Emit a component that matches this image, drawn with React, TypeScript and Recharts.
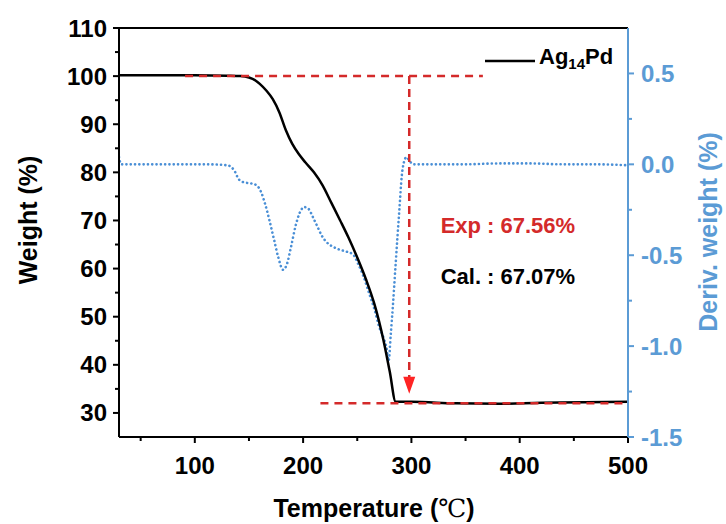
import React from 'react';
import {
  ComposedChart,
  Line,
  XAxis,
  YAxis,
  ReferenceLine,
  ReferenceDot,
  Legend,
} from 'recharts';

const FONT = '"Liberation Sans", Arial, sans-serif';
const BLUE = '#5b9bd5';
const RED = '#d42a2a';

// TGA curve (left axis)
const tgaTemp = [30, 60, 100, 130, 142, 150, 156, 160, 166, 172, 178, 184, 190, 196, 202, 210, 218, 226, 234, 242, 250, 258, 266, 274, 280, 285.5, 300, 340, 380, 420, 460, 500];
const tgaWeight = [100.2, 100.2, 100.2, 100.1, 100.0, 99.7, 99.1, 98.4, 97.0, 95.2, 92.5, 88.8, 85.9, 83.8, 82.1, 80.0, 77.3, 73.7, 70.1, 66.4, 62.3, 57.8, 52.5, 45.3, 38.6, 32.3, 32.3, 32.0, 31.9, 32.1, 32.2, 32.3];

// DTG curve (right axis)
const dtgTemp = [30, 32, 50, 80, 110, 130, 136, 141, 146, 152, 157, 161, 165, 169, 173, 177, 181.5, 185, 189, 193, 197, 201, 205, 209, 213, 217, 222, 228, 234, 240, 246, 251, 256, 261, 266, 270, 274, 277, 279, 281, 283, 285, 287, 289, 291, 293, 295.5, 298, 302, 320, 350, 380, 410, 440, 470, 500];
const dtgDeriv = [0.04, 0, 0, 0, 0, -0.005, -0.03, -0.085, -0.1, -0.105, -0.115, -0.15, -0.22, -0.31, -0.41, -0.51, -0.58, -0.55, -0.45, -0.34, -0.265, -0.235, -0.245, -0.29, -0.34, -0.39, -0.43, -0.455, -0.47, -0.48, -0.495, -0.55, -0.62, -0.71, -0.8, -0.89, -0.95, -1.01, -1.08, -0.93, -0.77, -0.59, -0.41, -0.24, -0.07, 0.01, 0.04, 0.02, 0, 0, 0, 0.005, 0.005, 0, 0, -0.005];

const tempTicks = [50, 100, 150, 200, 250, 300, 350, 400, 450, 500];
const weightTicks = [30, 35, 40, 45, 50, 55, 60, 65, 70, 75, 80, 85, 90, 95, 100, 105, 110];
const derivTicks = [-1.5, -1.25, -1, -0.75, -0.5, -0.25, 0, 0.25, 0.5];

// annotation guides (temperature, weight)
const startLevel = [{ x: 91, y: 100 }, { x: 366, y: 100 }];
const endLevel = [{ x: 216, y: 32.0 }, { x: 500, y: 32.0 }];
const dropArrow = [{ x: 298, y: 100 }, { x: 298, y: 34 }];
const expNote = { x: 327, y: 67.5, text: 'Exp : 67.56%' };
const calNote = { x: 327, y: 56.9, text: 'Cal. : 67.07%' };

const tgaData = tgaTemp.map((t, i) => ({ t, w: tgaWeight[i] }));
const dtgData = dtgTemp.map((t, i) => ({ t, d: dtgDeriv[i] }));

const LeftTick = ({ x, y, payload }: any) => {
  const major = payload.value % 10 === 0;
  return (
    <g>
      <line x1={x - (major ? 6 : 4)} x2={x} y1={y} y2={y} stroke="#000" strokeWidth={2} />
      {major && (
        <text x={x - 12} y={y + 8.5} textAnchor="end" fontSize={24} fontWeight="bold" fontFamily={FONT} fill="#000">
          {payload.value}
        </text>
      )}
    </g>
  );
};

const RightTick = ({ x, y, payload }: any) => {
  const v = Number(payload.value);
  const major = Math.abs(v * 2 - Math.round(v * 2)) < 1e-6;
  return (
    <g>
      <line x1={x} x2={x + (major ? 6 : 4)} y1={y} y2={y} stroke={BLUE} strokeWidth={2} />
      {major && (
        <text x={x + 13} y={y + 8.5} textAnchor="start" fontSize={24} fontWeight="bold" fontFamily={FONT} fill={BLUE}>
          {v.toFixed(1)}
        </text>
      )}
    </g>
  );
};

const BottomTick = ({ x, y, payload }: any) => {
  const major = payload.value % 100 === 0;
  return (
    <g>
      <line x1={x} x2={x} y1={y} y2={y + (major ? 6 : 4)} stroke="#000" strokeWidth={2} />
      {major && (
        <text x={x} y={y + 37} textAnchor="middle" fontSize={24} fontWeight="bold" fontFamily={FONT} fill="#000">
          {payload.value}
        </text>
      )}
    </g>
  );
};

const ArrowLine = (p: any) => {
  const { x1, y1, x2, y2 } = p;
  return (
    <g>
      <line x1={x1} y1={y1} x2={x2} y2={y2 - 14} stroke={RED} strokeWidth={2.5} strokeDasharray="8 5" />
      <polygon points={`${x2 - 6},${y2 - 17} ${x2 + 6},${y2 - 17} ${x2},${y2}`} fill="#ff2424" />
    </g>
  );
};

const renderLegend = (props: any) => {
  const item = (props.payload || [])[0];
  return (
    <div style={{ display: 'flex', alignItems: 'center', fontFamily: FONT, fontWeight: 'bold', fontSize: 22, color: '#000' }}>
      <svg width={50} height={6}>
        <line x1={0} x2={50} y1={3} y2={3} stroke={item?.color ?? '#000'} strokeWidth={2.5} />
      </svg>
      <span style={{ marginLeft: 4, lineHeight: '22px' }}>
        Ag<sub style={{ fontSize: 15, verticalAlign: '-5px' }}>14</sub>Pd
      </span>
    </div>
  );
};

export default function App() {
  return (
    <div style={{ position: 'absolute', top: 0, left: 0, width: 726, height: 524, background: '#fff' }}>
      <ComposedChart width={726} height={524} margin={{ top: 28, right: 0, bottom: 0, left: 0 }}>
        <XAxis
          dataKey="t"
          type="number"
          domain={[30, 500]}
          ticks={tempTicks}
          allowDataOverflow
          height={87}
          tickSize={0}
          tickMargin={0}
          tick={<BottomTick />}
          axisLine={{ stroke: '#000', strokeWidth: 2 }}
          label={() => (
            <text x={374} y={517} textAnchor="middle" fontSize={25} fontWeight="bold" fontFamily={FONT} fill="#000">
              Temperature (<tspan fontFamily='"Liberation Serif", "DejaVu Serif", serif' fontWeight="normal">℃</tspan>)
            </text>
          )}
        />
        <YAxis
          yAxisId="left"
          domain={[25, 110]}
          ticks={weightTicks}
          allowDataOverflow
          width={119}
          tickSize={0}
          tickMargin={0}
          tick={<LeftTick />}
          axisLine={{ stroke: '#000', strokeWidth: 2 }}
          label={() => (
            <text x={28} y={220} transform="rotate(-90, 28, 220)" textAnchor="middle" dominantBaseline="central" fontSize={25} fontWeight="bold" fontFamily={FONT} fill="#000">
              Weight (%)
            </text>
          )}
        />
        <YAxis
          yAxisId="right"
          orientation="right"
          domain={[-1.5, 0.75]}
          ticks={derivTicks}
          allowDataOverflow
          width={98}
          tickSize={0}
          tickMargin={0}
          tick={<RightTick />}
          axisLine={{ stroke: BLUE, strokeWidth: 2 }}
          label={() => (
            <text x={708} y={232} transform="rotate(-90, 708, 232)" textAnchor="middle" dominantBaseline="central" fontSize={25} fontWeight="bold" fontFamily={FONT} fill={BLUE}>
              Deriv. weight (%)
            </text>
          )}
        />
        <ReferenceLine yAxisId="left" y={110} stroke="#000" strokeWidth={2} />
        <Line
          yAxisId="right"
          data={dtgData}
          dataKey="d"
          type="monotone"
          stroke="#4a8fd6"
          strokeWidth={2.6}
          strokeDasharray="0.1 4.2"
          strokeLinecap="round"
          dot={false}
          legendType="none"
          isAnimationActive={false}
        />
        <Line
          yAxisId="left"
          data={tgaData}
          dataKey="w"
          name="Ag14Pd"
          type="monotone"
          stroke="#000"
          strokeWidth={2.5}
          dot={false}
          isAnimationActive={false}
        />
        <ReferenceLine yAxisId="left" segment={startLevel} stroke={RED} strokeWidth={2.5} strokeDasharray="8 6" />
        <ReferenceLine yAxisId="left" segment={endLevel} stroke={RED} strokeWidth={2.5} strokeDasharray="8 6" />
        <ReferenceLine yAxisId="left" segment={dropArrow} shape={(p: any) => <ArrowLine {...p} />} />
        <ReferenceDot
          yAxisId="left"
          x={expNote.x}
          y={expNote.y}
          shape={(p: any) => (
            <text x={p.cx} y={p.cy} fontSize={22} fontWeight="bold" fontFamily={FONT} fill={RED}>
              {expNote.text}
            </text>
          )}
        />
        <ReferenceDot
          yAxisId="left"
          x={calNote.x}
          y={calNote.y}
          shape={(p: any) => (
            <text x={p.cx} y={p.cy} fontSize={22} fontWeight="bold" fontFamily={FONT} fill="#000">
              {calNote.text}
            </text>
          )}
        />
        <Legend
          layout="horizontal"
          verticalAlign="middle"
          align="center"
          content={renderLegend}
          wrapperStyle={{ left: 485, top: 46, width: 'auto' }}
        />
      </ComposedChart>
    </div>
  );
}
